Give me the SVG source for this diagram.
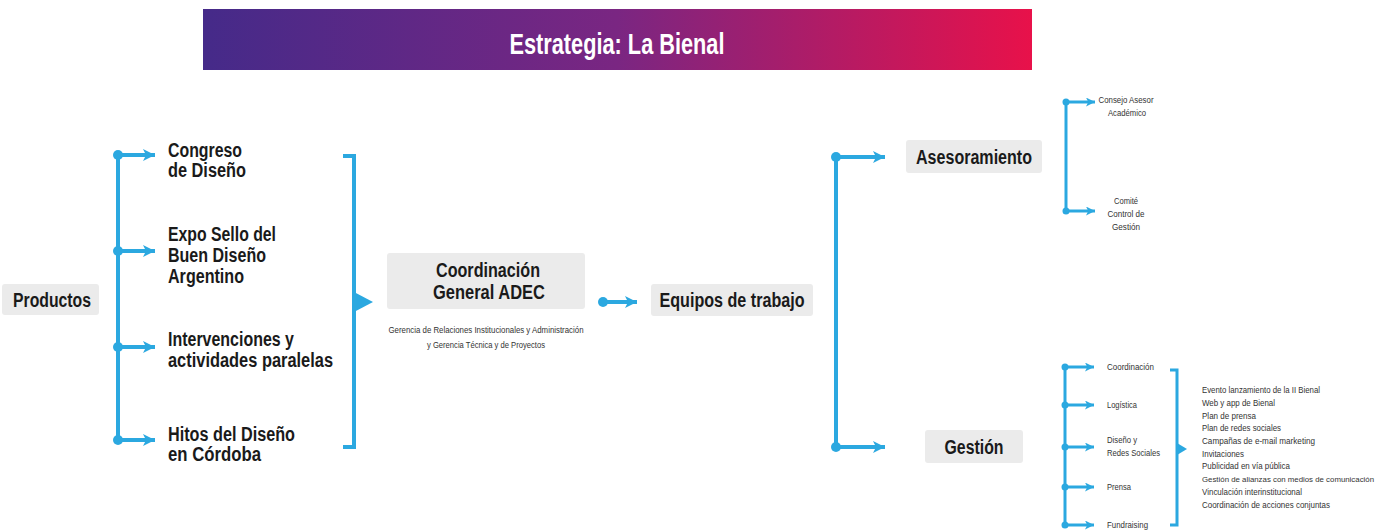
<svg xmlns="http://www.w3.org/2000/svg" width="1387" height="531" viewBox="0 0 1387 531">
<defs>
<linearGradient id="tg" x1="0" y1="0" x2="1" y2="0">
<stop offset="0" stop-color="#452a89"/>
<stop offset="0.5" stop-color="#7a2682"/>
<stop offset="1" stop-color="#e8114a"/>
</linearGradient>
<marker id="ah" viewBox="0 0 12 12" refX="12" refY="6" markerWidth="12" markerHeight="12" markerUnits="userSpaceOnUse" orient="auto">
<path d="M0,0 L12,6 L0,12 L3,6 z" fill="#2ba8e0"/>
</marker>
<marker id="ahs" viewBox="0 0 10 10" refX="10" refY="5" markerWidth="9" markerHeight="9" markerUnits="userSpaceOnUse" orient="auto">
<path d="M0,0 L10,5 L0,10 L2.5,5 z" fill="#2ba8e0"/>
</marker>
</defs>
<style>
.box{fill:#ebebeb}
.b{font-family:"Liberation Sans",Arial,sans-serif;font-weight:bold;fill:#1a1a1a;font-size:20px}
.s{font-family:"Liberation Sans",Arial,sans-serif;fill:#333;font-size:9px}
.ln{stroke:#2ba8e0;stroke-width:4;fill:none}
.lns{stroke:#2ba8e0;stroke-width:3;fill:none}
.dot{fill:#2ba8e0}
</style>
<rect width="1387" height="531" fill="#fff"/>

<g id="title">
<rect x="203" y="9" width="829" height="61" fill="url(#tg)"/>
<text x="617" y="54" text-anchor="middle" font-size="29" fill="#fff" font-family="Liberation Sans, Arial, sans-serif" font-weight="bold" textLength="215" lengthAdjust="spacingAndGlyphs">Estrategia: La Bienal</text>
</g>

<g id="connectors">
<line class="ln" x1="118" y1="153" x2="118" y2="440"/>
<circle class="dot" cx="118" cy="155" r="5"/>
<circle class="dot" cx="118" cy="251" r="5"/>
<circle class="dot" cx="118" cy="347" r="5"/>
<circle class="dot" cx="118" cy="440" r="5"/>
<line class="ln" x1="118" y1="155" x2="155" y2="155" marker-end="url(#ah)"/>
<line class="ln" x1="118" y1="251" x2="155" y2="251" marker-end="url(#ah)"/>
<line class="ln" x1="118" y1="347" x2="155" y2="347" marker-end="url(#ah)"/>
<line class="ln" x1="118" y1="440" x2="155" y2="440" marker-end="url(#ah)"/>

<path class="ln" d="M343,156 H354 V447 H343"/>
<path d="M354,292 L373,302 L354,312 z" fill="#2ba8e0"/>

<circle class="dot" cx="603" cy="302" r="5"/>
<line class="ln" x1="603" y1="302" x2="637" y2="302" marker-end="url(#ah)"/>

<line class="ln" x1="836" y1="157" x2="836" y2="447"/>
<circle class="dot" cx="836" cy="157" r="5"/>
<circle class="dot" cx="836" cy="447" r="5"/>
<line class="ln" x1="836" y1="157" x2="885" y2="157" marker-end="url(#ah)"/>
<line class="ln" x1="836" y1="447" x2="885" y2="447" marker-end="url(#ah)"/>

<line class="lns" x1="1066" y1="102" x2="1066" y2="211"/>
<circle class="dot" cx="1066" cy="102" r="3.5"/>
<circle class="dot" cx="1066" cy="211" r="3.5"/>
<line class="lns" x1="1066" y1="102" x2="1095" y2="102" marker-end="url(#ahs)"/>
<line class="lns" x1="1066" y1="211" x2="1095" y2="211" marker-end="url(#ahs)"/>

<line class="lns" x1="1065" y1="367" x2="1065" y2="525"/>
<circle class="dot" cx="1065" cy="367" r="3.5"/>
<circle class="dot" cx="1065" cy="405" r="3.5"/>
<circle class="dot" cx="1065" cy="447" r="3.5"/>
<circle class="dot" cx="1065" cy="487" r="3.5"/>
<circle class="dot" cx="1065" cy="525" r="3.5"/>
<line class="lns" x1="1065" y1="367" x2="1094" y2="367" marker-end="url(#ahs)"/>
<line class="lns" x1="1065" y1="405" x2="1094" y2="405" marker-end="url(#ahs)"/>
<line class="lns" x1="1065" y1="447" x2="1094" y2="447" marker-end="url(#ahs)"/>
<line class="lns" x1="1065" y1="487" x2="1094" y2="487" marker-end="url(#ahs)"/>
<line class="lns" x1="1065" y1="525" x2="1094" y2="525" marker-end="url(#ahs)"/>

<path class="lns" d="M1170,370 H1177 V525 H1170"/>
<path d="M1177,443 L1187,449 L1177,455 z" fill="#2ba8e0"/>
</g>

<g id="productos">
<rect class="box" x="2" y="284" width="97" height="31" rx="3"/>
<text class="b" x="52" y="307" text-anchor="middle" textLength="78" lengthAdjust="spacingAndGlyphs">Productos</text>
</g>

<g id="congreso">
<text class="b" x="168" y="157" textLength="74" lengthAdjust="spacingAndGlyphs">Congreso</text>
<text class="b" x="168" y="177" textLength="78" lengthAdjust="spacingAndGlyphs">de Diseño</text>
</g>

<g id="expo">
<text class="b" x="168" y="241" textLength="108" lengthAdjust="spacingAndGlyphs">Expo Sello del</text>
<text class="b" x="168" y="262" textLength="98" lengthAdjust="spacingAndGlyphs">Buen Diseño</text>
<text class="b" x="168" y="283" textLength="76" lengthAdjust="spacingAndGlyphs">Argentino</text>
</g>

<g id="intervenciones">
<text class="b" x="168" y="346" textLength="126" lengthAdjust="spacingAndGlyphs">Intervenciones y</text>
<text class="b" x="168" y="367" textLength="165" lengthAdjust="spacingAndGlyphs">actividades paralelas</text>
</g>

<g id="hitos">
<text class="b" x="168" y="441" textLength="127" lengthAdjust="spacingAndGlyphs">Hitos del Diseño</text>
<text class="b" x="168" y="461" textLength="93" lengthAdjust="spacingAndGlyphs">en Córdoba</text>
</g>

<g id="coordinacion-general">
<rect class="box" x="387" y="253" width="198" height="56" rx="3"/>
<text class="b" x="488" y="277" text-anchor="middle" textLength="104" lengthAdjust="spacingAndGlyphs">Coordinación</text>
<text class="b" x="489" y="299" text-anchor="middle" textLength="112" lengthAdjust="spacingAndGlyphs">General ADEC</text>
<text class="s" x="486" y="333" text-anchor="middle" textLength="195" lengthAdjust="spacingAndGlyphs">Gerencia de Relaciones Institucionales y Administración</text>
<text class="s" x="486" y="348" text-anchor="middle" textLength="118" lengthAdjust="spacingAndGlyphs">y Gerencia Técnica y de Proyectos</text>
</g>

<g id="equipos">
<rect class="box" x="651" y="284" width="162" height="32" rx="3"/>
<text class="b" x="732" y="307" text-anchor="middle" textLength="145" lengthAdjust="spacingAndGlyphs">Equipos de trabajo</text>
</g>

<g id="asesoramiento">
<rect class="box" x="906" y="140" width="136" height="33" rx="3"/>
<text class="b" x="974" y="164" text-anchor="middle" textLength="116" lengthAdjust="spacingAndGlyphs">Asesoramiento</text>
</g>

<g id="gestion">
<rect class="box" x="925" y="430" width="98" height="33" rx="3"/>
<text class="b" x="974" y="454" text-anchor="middle" textLength="59" lengthAdjust="spacingAndGlyphs">Gestión</text>
</g>

<g id="consejo">
<text class="s" x="1126" y="103" text-anchor="middle" textLength="55" lengthAdjust="spacingAndGlyphs">Consejo Asesor</text>
<text class="s" x="1127" y="116" text-anchor="middle" textLength="38" lengthAdjust="spacingAndGlyphs">Académico</text>
</g>

<g id="comite">
<text class="s" x="1126" y="204" text-anchor="middle" textLength="24" lengthAdjust="spacingAndGlyphs">Comité</text>
<text class="s" x="1126" y="217" text-anchor="middle" textLength="37" lengthAdjust="spacingAndGlyphs">Control de</text>
<text class="s" x="1126" y="230" text-anchor="middle" textLength="28" lengthAdjust="spacingAndGlyphs">Gestión</text>
</g>

<g id="g-coordinacion"><text class="s" x="1107" y="370" textLength="47" lengthAdjust="spacingAndGlyphs">Coordinación</text></g>
<g id="g-logistica"><text class="s" x="1107" y="408" textLength="30" lengthAdjust="spacingAndGlyphs">Logística</text></g>
<g id="g-diseno">
<text class="s" x="1107" y="443" textLength="30" lengthAdjust="spacingAndGlyphs">Diseño y</text>
<text class="s" x="1107" y="456" textLength="53" lengthAdjust="spacingAndGlyphs">Redes Sociales</text>
</g>
<g id="g-prensa"><text class="s" x="1107" y="490" textLength="24" lengthAdjust="spacingAndGlyphs">Prensa</text></g>
<g id="g-fundraising"><text class="s" x="1107" y="528" textLength="41" lengthAdjust="spacingAndGlyphs">Fundraising</text></g>

<g id="tareas">
<text class="s" x="1202" y="393" textLength="118" lengthAdjust="spacingAndGlyphs">Evento lanzamiento de la II Bienal</text>
<text class="s" x="1202" y="406" textLength="73" lengthAdjust="spacingAndGlyphs">Web y app de Bienal</text>
<text class="s" x="1202" y="419" textLength="54" lengthAdjust="spacingAndGlyphs">Plan de prensa</text>
<text class="s" x="1202" y="431" textLength="79" lengthAdjust="spacingAndGlyphs">Plan de redes sociales</text>
<text class="s" x="1202" y="444" textLength="113" lengthAdjust="spacingAndGlyphs">Campañas de e-mail marketing</text>
<text class="s" x="1202" y="457" textLength="42" lengthAdjust="spacingAndGlyphs">Invitaciones</text>
<text class="s" x="1202" y="469" textLength="88" lengthAdjust="spacingAndGlyphs">Publicidad en vía pública</text>
<text class="s" x="1202" y="482" style="font-size:8px" textLength="172" lengthAdjust="spacingAndGlyphs">Gestión de alianzas con medios de comunicación</text>
<text class="s" x="1202" y="495" textLength="100" lengthAdjust="spacingAndGlyphs">Vinculación interinstitucional</text>
<text class="s" x="1202" y="508" textLength="128" lengthAdjust="spacingAndGlyphs">Coordinación de acciones conjuntas</text>
</g>
</svg>
